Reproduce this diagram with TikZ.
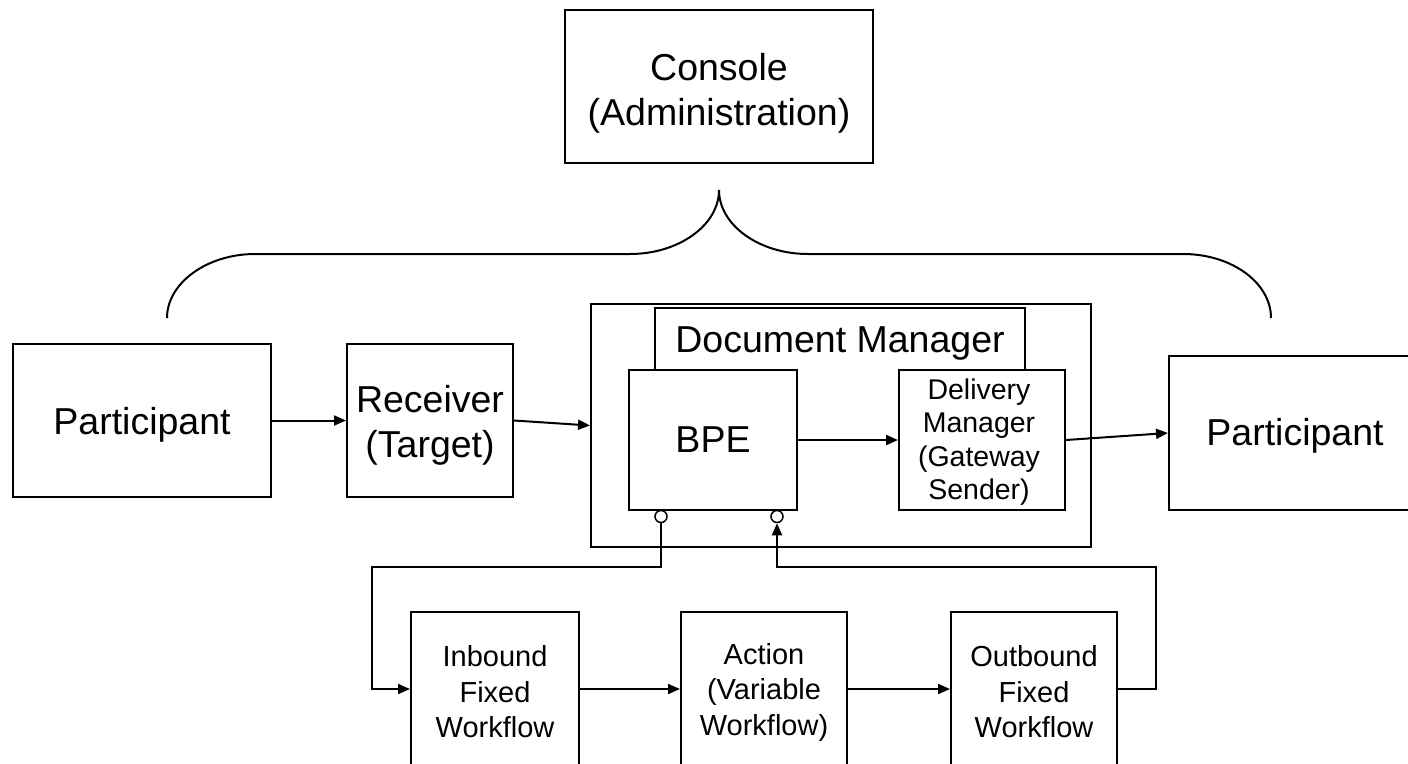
\documentclass[tikz,border=0pt]{standalone}
\usepackage{fontspec}
\setmainfont{Liberation Sans}
\usetikzlibrary{arrows.meta}
\begin{document}
\begin{tikzpicture}[x=1pt,y=-1pt,
  box/.style={draw,line width=2pt,inner sep=0pt,align=center},
  big/.style={font=\fontsize{37.5}{45}\selectfont,align=center},
  med/.style={font=\fontsize{29}{35.5}\selectfont,align=center},
  sml/.style={font=\fontsize{28.5}{33.3}\selectfont,align=center},
  line/.style={line width=2pt},
  arr/.style={line width=2pt,-{Triangle[length=12pt,width=10pt]}},
  port/.style={circle,draw,line width=1.5pt,fill=white,minimum size=12pt,inner sep=0pt}]
\useasboundingbox (0,0) rectangle (1408,763);
% console
\node[box,minimum width=308pt,minimum height=153pt,
  label={[big,yshift=-7pt]center:Console\\(Administration)}] (con) at (719,86.5) {};
% brace
\draw[line] (167,318) .. controls (167,283) and (207,254) .. (255,254) -- (630,254)
  .. controls (679,254) and (719,225) .. (719,190)
  .. controls (719,225) and (759,254) .. (808,254) -- (1183,254)
  .. controls (1232,254) and (1271,283) .. (1271,318);
% top row
\node[box,minimum width=258pt,minimum height=153pt,
  label={[big,yshift=-4pt]center:Participant}] (p1) at (142,420.5) {};
\node[box,minimum width=166pt,minimum height=153pt,
  label={[big,yshift=-5pt]center:Receiver\\(Target)}] (rec) at (430,420.5) {};
\node[draw,line width=2pt,minimum width=500pt,minimum height=243pt] (dmo) at (841,425.5) {};
\node[inner sep=0pt,minimum width=370pt,minimum height=62pt,
  label={[big,yshift=-4pt]center:Document Manager}] (dmi) at (840,339) {};
\draw[line] (dmi.south west) -- (dmi.north west) -- (dmi.north east) -- (dmi.south east);
\node[box,fill=white,minimum width=168pt,minimum height=140pt,
  label={[big]center:BPE}] (bpe) at (713,440) {};
\node[box,fill=white,minimum width=166pt,minimum height=140pt,
  label={[sml,xshift=-3pt,yshift=-2pt]center:Delivery\\Manager\\(Gateway\\Sender)}] (del) at (982,440) {};
\node[box,minimum width=252pt,minimum height=154pt,
  label={[big,yshift=-3pt]center:Participant}] (p2) at (1295,433) {};
\node[port] (c1) at (661,516.5) {};
\node[port] (c2) at (777,516.5) {};
% workflow row
\node[box,minimum width=168pt,minimum height=154pt,
  label={[med,yshift=-3pt]center:Inbound\\Fixed\\Workflow}] (inb) at (495,689) {};
\node[box,minimum width=166pt,minimum height=154pt,
  label={[med,yshift=-3pt]center:Action\\(Variable\\Workflow)}] (act) at (764,689) {};
\node[box,minimum width=166pt,minimum height=154pt,
  label={[med,yshift=-3pt]center:Outbound\\Fixed\\Workflow}] (outb) at (1034,689) {};
% connectors
\draw[arr] (p1.east) -- (rec.west);
\draw[arr] (rec.east) -- (dmo.west);
\draw[arr] (bpe.east) -- (del.west);
\draw[arr] (del.east) -- (p2.west);
\coordinate (l1) at (372,567);
\coordinate (r1) at (1156,567);
\draw[arr] (c1.south) |- (l1) |- (inb.west);
\draw[arr] (inb.east) -- (act.west);
\draw[arr] (act.east) -- (outb.west);
\draw[arr] (outb.east) -| (r1) -| (c2.south);
\end{tikzpicture}
\end{document}
